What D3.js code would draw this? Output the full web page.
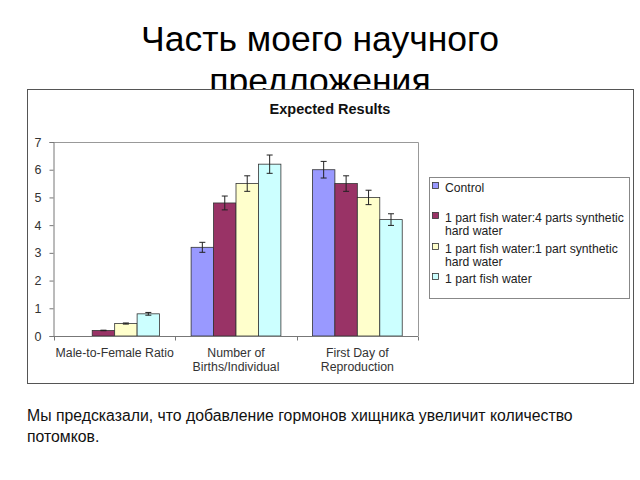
<!DOCTYPE html>
<html><head><meta charset="utf-8">
<script src="https://cdn.jsdelivr.net/npm/d3@7/dist/d3.min.js"></script>
<style>body{margin:0;background:#fff}</style>
</head><body>
<svg id="c" width="640" height="480"></svg>
<script>
const categories = [["Male-to-Female Ratio"], ["Number of", "Births/Individual"], ["First Day of", "Reproduction"]];
const seriesNames = ["Control", "1 part fish water:4 parts synthetic hard water", "1 part fish water:1 part synthetic hard water", "1 part fish water"];
const legendLines = [["Control"], ["1 part fish water:4 parts synthetic", "hard water"], ["1 part fish water:1 part synthetic", "hard water"], ["1 part fish water"]];
const seriesColors = ["#9999FF", "#993366", "#FFFFCC", "#CCFFFF"];
const control = [0, 3.2, 6.0];
const fish4 = [0.2, 4.8, 5.5];
const fish1 = [0.45, 5.5, 5.0];
const fishOnly = [0.8, 6.2, 4.2];
const errControl = [0, 0.18, 0.3];
const errFish4 = [0.01, 0.25, 0.28];
const errFish1 = [0.02, 0.28, 0.26];
const errFishOnly = [0.05, 0.33, 0.21];
const yTicks = [0, 1, 2, 3, 4, 5, 6, 7];
const slideTitle = ["Часть моего научного", "предложения"];
const chartTitle = "Expected Results";
const caption = ["Мы предсказали, что добавление гормонов хищника увеличит количество", "потомков."];

const values = [control, fish4, fish1, fishOnly];
const errs = [errControl, errFish4, errFish1, errFishOnly];
const FF = "'Liberation Sans',Arial,sans-serif";

const svg = d3.select("#c");
// slide title
const tt = svg.append("text").attr("text-anchor", "middle")
  .style("font-family", FF).style("font-size", "35.5px").attr("fill", "#000");
tt.append("tspan").attr("x", 320).attr("y", 51).text(slideTitle[0]);
tt.append("tspan").attr("x", 320).attr("y", 92.5).text(slideTitle[1]);

// chart box
svg.append("rect").attr("x", 27.5).attr("y", 89.5).attr("width", 606).attr("height", 294)
  .attr("fill", "#fff").attr("stroke", "#555").attr("stroke-width", 1);

svg.append("text").attr("x", 330).attr("y", 113.5).attr("text-anchor", "middle")
  .style("font-family", FF).style("font-size", "14.5px")
  .style("font-weight", "bold").attr("fill", "#111").text(chartTitle);

const pL = 54, pR = 418, pT = 142, pB = 336;
const x0 = d3.scaleBand().domain(d3.range(categories.length)).range([pL, pR]).paddingInner(0.26).paddingOuter(0.13);
const x1 = d3.scaleBand().domain(d3.range(seriesNames.length)).range([0, x0.bandwidth()]);
const y = d3.scaleLinear().domain([0, 7]).range([pB, pT]);

// plot frame (top & right)
svg.append("path").attr("d", `M${pL},${pT + 0.5}H${pR + 0.5}V${pB}`).attr("fill", "none").attr("stroke", "#999");

const g = svg.append("g");
values.forEach((vals, s) => {
  vals.forEach((v, c) => {
    const bx = x0(c) + x1(s);
    g.append("rect").attr("x", bx).attr("y", y(v)).attr("width", x1.bandwidth()).attr("height", pB - y(v))
      .attr("fill", seriesColors[s]).attr("stroke", "#333").attr("stroke-width", 0.8);
    const e = errs[s][c];
    if (e > 0) {
      const cx = bx + x1.bandwidth() / 2;
      g.append("path").attr("d", `M${cx},${y(v + e)}V${y(v - e)}M${cx - 3},${y(v + e)}H${cx + 3}M${cx - 3},${y(v - e)}H${cx + 3}`)
        .attr("stroke", "#222").attr("stroke-width", 1).attr("fill", "none");
    }
  });
});

// y axis
const ya = svg.append("g").attr("transform", `translate(${pL - 0.5},0)`)
  .call(d3.axisLeft(y).tickValues(yTicks).tickFormat(d3.format("d")).tickSize(4).tickPadding(8));
ya.select(".domain").attr("stroke", "#777");
ya.selectAll(".tick line").attr("stroke", "#777");
ya.selectAll("text").style("font-family", FF).style("font-size", "12.5px").attr("fill", "#333");

// x axis
const xa = svg.append("g").attr("transform", `translate(0,${pB + 0.5})`);
xa.append("line").attr("x1", pL - 4).attr("x2", pR).attr("stroke", "#777");
const step = x0.step();
d3.range(categories.length + 1).forEach(i => {
  const xx = Math.round(x0(0) - x0.paddingOuter() * step + i * step) + 0.5;
  xa.append("line").attr("x1", xx).attr("x2", xx).attr("y1", 0).attr("y2", 4).attr("stroke", "#777");
});
categories.forEach((lines, c) => {
  const t = xa.append("text").attr("text-anchor", "middle")
    .style("font-family", FF).style("font-size", "12.3px").attr("fill", "#333");
  lines.forEach((l, i) => t.append("tspan").attr("x", x0(c) + x0.bandwidth() / 2).attr("y", 20 + i * 14).text(l));
});

// legend
svg.append("rect").attr("x", 429.5).attr("y", 177.5).attr("width", 200).attr("height", 121)
  .attr("fill", "#fff").attr("stroke", "#888");
const legY = [187, 217, 248, 278];
legendLines.forEach((lines, s) => {
  svg.append("rect").attr("x", 432.5).attr("y", legY[s] - 4.5).attr("width", 6).attr("height", 6)
    .attr("fill", seriesColors[s]).attr("stroke", "#333").attr("stroke-width", 0.8);
  const t = svg.append("text").style("font-family", FF)
    .style("font-size", "12.2px").attr("fill", "#222");
  lines.forEach((l, i) => t.append("tspan").attr("x", 445).attr("y", legY[s] + 4.5 + i * 13.5).text(l));
});

// caption
const ct = svg.append("text").style("font-family", FF)
  .style("font-size", "15.8px").attr("fill", "#111");
caption.forEach((l, i) => ct.append("tspan").attr("x", 27).attr("y", 421 + i * 21).text(l));
</script>
</body></html>
